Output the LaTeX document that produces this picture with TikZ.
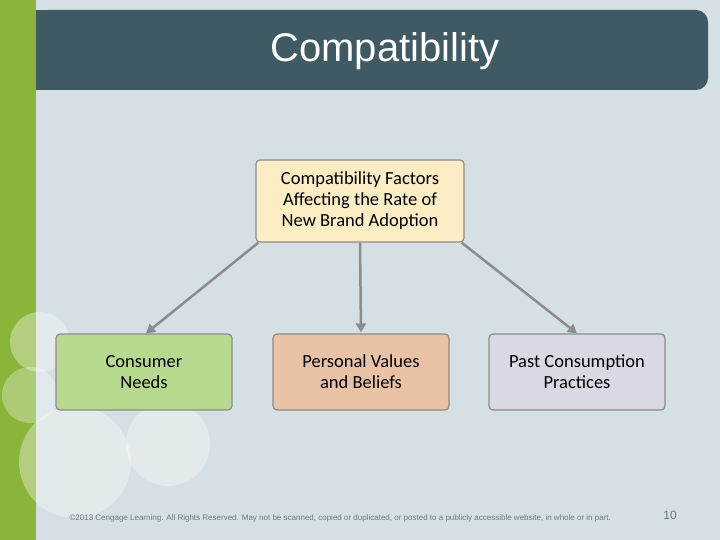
\documentclass[tikz,border=0pt]{standalone}
\usepackage{fontspec}
\setmainfont{Carlito}
\newfontfamily\arialf{Liberation Sans}
\usetikzlibrary{arrows.meta}
\definecolor{bg}{HTML}{D4E0E3}
\definecolor{stripe}{HTML}{8AB53A}
\definecolor{titlebar}{HTML}{3F5A63}
\definecolor{topfill}{HTML}{FDEDC4}
\definecolor{gfill}{HTML}{B7D98F}
\definecolor{pfill}{HTML}{E9C1A4}
\definecolor{lfill}{HTML}{D9D8E5}
\definecolor{edge}{HTML}{8C8C8C}
\tikzset{
  box/.style={draw=edge, line width=1.2pt, rounded corners=4pt, align=center, font=\fontsize{18.5}{21}\selectfont, inner sep=0pt},
  conn/.style={draw=edge, line width=2.5pt, -{Triangle[length=9pt,width=10pt]}},
}
\begin{document}
\begin{tikzpicture}[x=1pt,y=-1pt]
\useasboundingbox (0,0) rectangle (720,540);
\fill[bg] (0,0) rectangle (720,540);
\fill[stripe] (0,0) rectangle (36,540);
\begin{scope}
\clip (0,0) rectangle (720,540);
\fill[white,opacity=0.35] (40,342) circle (30);
\fill[white,opacity=0.3] (30,395) circle (28);
\fill[white,opacity=0.35] (75,462) circle (56);
\fill[white,opacity=0.35] (168,444) circle (42);
\end{scope}
\fill[titlebar, rounded corners=12pt] (36,10) -- (708,10) -- (708,90) -- (36,90) -- cycle;
\fill[titlebar] (36,10) rectangle (60,90);
\node[text=white, font=\arialf\fontsize{40}{46}\selectfont] (title) at (385,51) {Compatibility};
\node[box, fill=topfill, minimum width=208pt, minimum height=82pt] (top) at (360,201) {Compatibility Factors\\ Affecting the Rate of\\ New Brand Adoption};
\node[box, fill=gfill, minimum width=176pt, minimum height=76pt] (b1) at (144,372) {Consumer\\Needs};
\node[box, fill=pfill, minimum width=176pt, minimum height=76pt] (b2) at (361,372) {Personal Values\\and Beliefs};
\node[box, fill=lfill, minimum width=176pt, minimum height=76pt] (b3) at (577,372) {Past Consumption\\Practices};
\draw[conn] (top.south west) ++(3,0) -- ([xshift=2pt]b1.north);
\draw[conn] (top.south) -- ([yshift=1pt]b2.north);
\draw[conn] (top.south east) ++(-3,0) -- (b3.north);
\node[text=titlebar!80, font=\arialf\fontsize{8}{10}\selectfont, anchor=west] (foot) at (66,518) {\copyright 2013 Cengage Learning. All Rights Reserved. May not be scanned, copied or duplicated, or posted to a publicly accessible website, in whole or in part.};
\node[text=titlebar!80, font=\arialf\fontsize{12}{14}\selectfont] (num) at (670,515) {10};
\end{tikzpicture}
\end{document}
